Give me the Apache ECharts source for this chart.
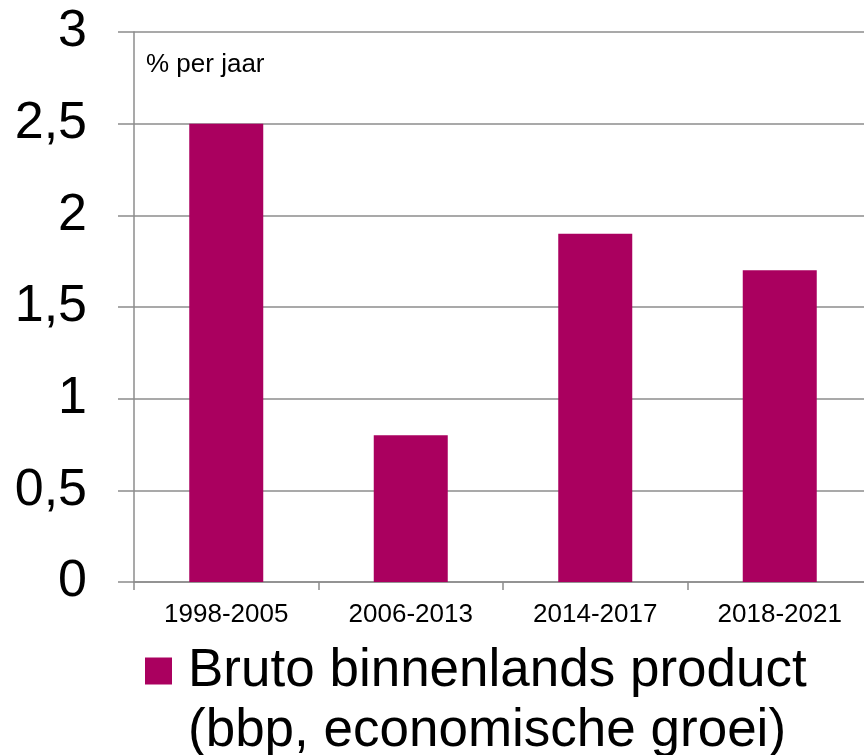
<!DOCTYPE html>
<html>
<head>
<meta charset="utf-8">
<script src="https://cdn.jsdelivr.net/npm/echarts@6/dist/echarts.min.js"></script>
<style>
  html, body { margin: 0; padding: 0; background: #fff; }
  #chart { width: 864px; height: 755px; }
</style>
</head>
<body>
<div id="chart"></div>
<script>
// data
var periods = ['1998-2005', '2006-2013', '2014-2017', '2018-2021'];
var bbpGroei = [2.5, 0.8, 1.9, 1.7];
var seriesName = 'Bruto binnenlands product';
var seriesNameLine2 = '(bbp, economische groei)';
var unitLabel = '% per jaar';

var font = '"Liberation Sans", Arial, sans-serif';
var grey = '#8c8c8c';
var bbpColor = '#aa005f';

var myChart = echarts.init(document.getElementById('chart'));
var option = {
    backgroundColor: '#fff',
    animation: false,
    textStyle: { fontFamily: font, color: '#000' },
    // plot runs a little past the right edge, like the original
    grid: { left: 134, width: 738, top: 32, height: 550, outerBoundsMode: 'none' },
    legend: {
        data: [seriesName],
        left: 145,
        top: 641,
        padding: 0,
        itemWidth: 27,
        itemHeight: 27,
        icon: 'rect',
        textStyle: { fontFamily: font, fontSize: 53, color: '#000', lineHeight: 60, padding: [0, 0, 0, 11] }
    },
    graphic: [{
        type: 'text',
        left: 146,
        top: 52,
        style: { text: unitLabel, fontFamily: font, fontSize: 26, fill: '#000' }
    }, {
        // second line of the legend text
        type: 'text',
        left: 188,
        top: 705,
        style: { text: seriesNameLine2, fontFamily: font, fontSize: 53, fill: '#000' }
    }],
    xAxis: {
        type: 'category',
        data: periods,
        axisLine: { lineStyle: { color: grey, width: 1.5 } },
        axisTick: { show: true, length: 8, lineStyle: { color: grey, width: 1.5 } },
        axisLabel: { fontFamily: font, fontSize: 26, color: '#000', margin: 20 }
    },
    yAxis: {
        type: 'value',
        min: 0,
        max: 3,
        interval: 0.5,
        axisLine: { show: true, lineStyle: { color: grey, width: 1.5 } },
        axisTick: { show: true, length: 16, lineStyle: { color: grey, width: 1.5 } },
        splitLine: { lineStyle: { color: grey, width: 1.5 } },
        axisLabel: {
            fontFamily: font, fontSize: 52, color: '#000', margin: 47,
            formatter: function (value) {
                return String(value).replace('.', ',');
            }
        }
    },
    series: [{
        name: seriesName,
        type: 'bar',
        data: bbpGroei,
        barWidth: 74,
        itemStyle: { color: bbpColor }
    }]
};
myChart.setOption(option);
</script>
</body>
</html>
